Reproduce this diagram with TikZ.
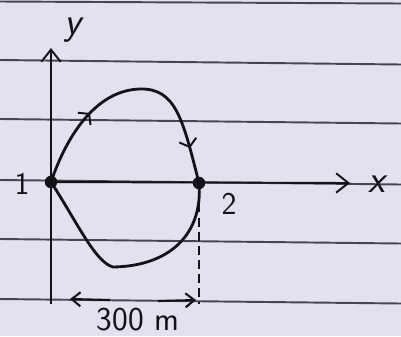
\documentclass[tikz,border=0pt]{standalone}
\usepackage{tikz}
\usetikzlibrary{
  arrows.meta,
  positioning,
  decorations.markings
}
\definecolor{paperbg}{RGB}{226, 225, 238}
\definecolor{ruleline}{RGB}{70, 70, 82}
\definecolor{pencil}{RGB}{18, 18, 24}
\tikzset{
  axisline/.style = {draw=pencil, line width=1.1pt,
    -{Straight Barb[length=7pt, width=11pt, line width=1.1pt]}},
  pathline/.style = {draw=pencil, line width=1.6pt, line join=round},
  flowmarks/.style 2 args = {
    postaction={decorate},
    decoration={markings,
      mark=at position #1 with {\arrow{Straight Barb[length=4pt, width=10pt, line width=1.1pt]}},
      mark=at position #2 with {\arrow{Straight Barb[length=4pt, width=10pt, line width=1.1pt]}}}
  },
  dimarr/.style = {draw=pencil, line width=1.2pt,
    -{Straight Barb[length=5pt, width=8pt, line width=1.2pt]}},
  guide/.style = {draw=pencil, line width=0.9pt, dash pattern=on 5pt off 3pt},
  dot/.style = {circle, fill=pencil, inner sep=0pt, minimum size=0.25cm},
  lbl/.style = {text=pencil, inner sep=0pt,
    font=\sffamily\fontsize{#1}{#1}\selectfont},
  lbl/.default = 16pt,
  paperrule/.style = {draw=ruleline, line width=1.1pt}
}

\begin{document}
\begin{tikzpicture}[x=0.02cm, y=-0.02cm]

  % paper
  \fill[paperbg] (0,0) rectangle (401,336);
  \useasboundingbox (0,0) rectangle (401,336);
  \draw[paperrule] (0,1.5) -- (401,3.5);
  \foreach \yy in {60,119,180,239,299}
    \draw[paperrule] (0,\yy) -- (401,\yy+4.5);

  % points and axes
  \node[dot] (p1) at (51,182) {};
  \node[dot] (p2) at (199,183) {};
  \coordinate (ybot) at (51,304);
  \coordinate (ytop) at (51,48);
  \coordinate (xend) at (350,183);
  \coordinate (gfoot) at (199,304);

  \draw[axisline] (ybot) -- (ytop);
  \draw[axisline] (p1.center) -- (xend);

  % closed path 1 -> 2
  \draw[pathline, flowmarks={0.31}{0.86}] (p1.center)
    .. controls (68,132) and (98,90) .. (140,89)
    .. controls (176,88) and (183,120) .. (p2.center);
  \draw[pathline] (p1.center)
    .. controls (77,222) and (95,262) .. (113,267)
    .. controls (172,266) and (203,232) .. (p2.center);

  % 300 m
  \draw[guide] (p2) -- (gfoot);
  \coordinate (dimL) at (110,300);
  \coordinate (dimR) at (158,301);
  \draw[dimarr] (dimL) -- (70,299);
  \draw[dimarr] (dimR) -- (196,300);

  % labels
  \node[lbl=18pt] (n1) at (22,184) {1};
  \node[lbl=18pt] (n2) at (229,204) {2};
  \node[lbl=19pt] (dim) at (138,320) {300 m};
  \node[lbl=22pt] (xl) at (377,184) {\itshape x};
  \node[lbl=22pt] (yl) at (73,30) {\itshape y};

\end{tikzpicture}
\end{document}
